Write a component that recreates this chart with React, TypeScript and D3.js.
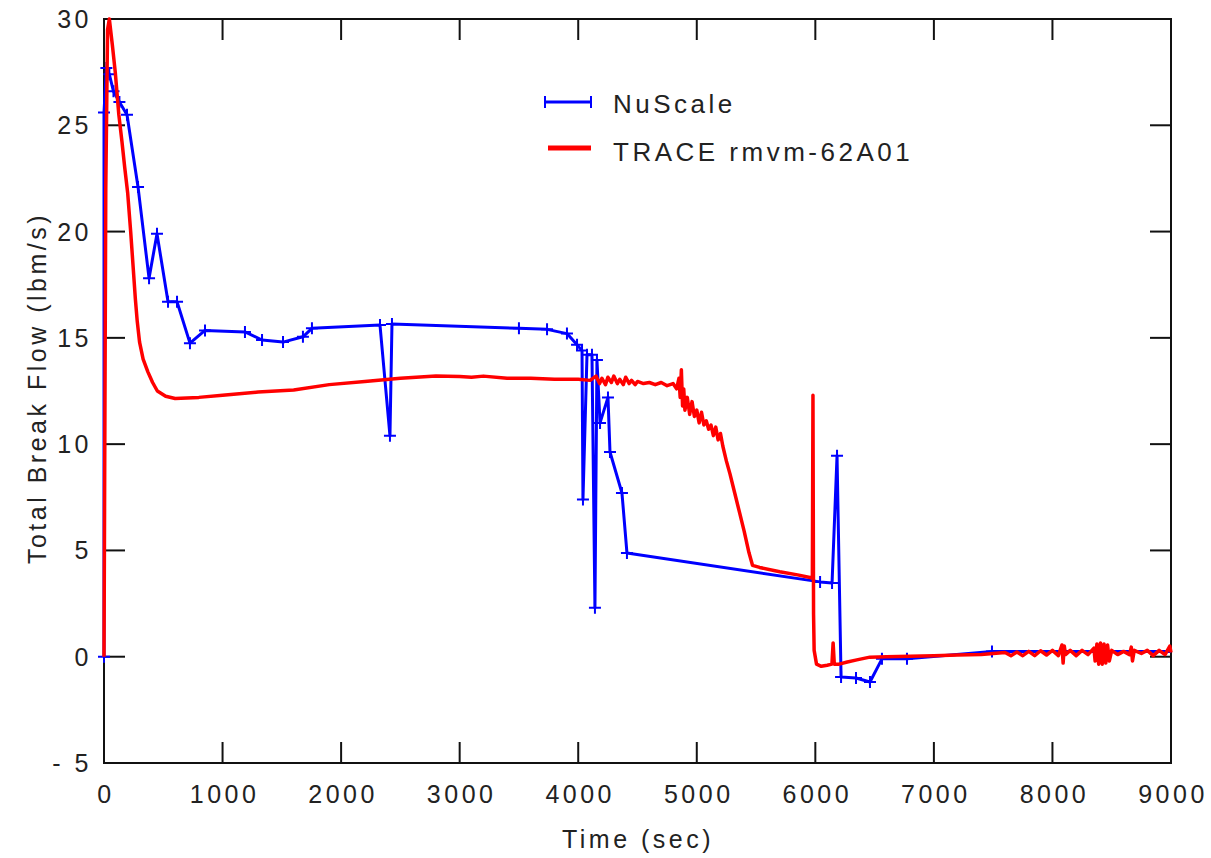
import React, { useRef, useEffect } from "react";
import * as d3 from "d3";

// NuScale results (points carry "+" markers)
const nuscaleTime = [0, 0, 20, 45, 80, 130, 194, 287, 380, 447, 540, 616, 725, 852, 1189, 1333, 1510, 1678, 1754, 2328, 2412, 2429, 3500, 3737, 3905, 3990, 4032, 4040, 4074, 4116, 4141, 4158, 4184, 4251, 4268, 4369, 4411, 6040, 6141, 6183, 6217, 6343, 6461, 6562, 6773, 7490, 8000, 9000];
const nuscaleFlow = [0, 25.6, 27.7, 27.4, 26.6, 26.1, 25.5, 22.1, 17.8, 19.9, 16.7, 16.7, 14.75, 15.35, 15.28, 14.9, 14.8, 15.05, 15.45, 15.6, 10.4, 15.65, 15.45, 15.4, 15.2, 14.67, 14.4, 7.4, 14.2, 14.2, 2.3, 13.96, 11.0, 12.2, 9.63, 7.7, 4.88, 3.52, 3.47, 9.45, -0.95, -1.0, -1.19, -0.1, -0.1, 0.25, 0.25, 0.25];

// TRACE rmvm-62A01 results
const traceTime = [0, 15, 30, 45, 70, 95, 125, 152, 175, 200, 225, 245, 265, 280, 300, 330, 370, 410, 450, 520, 600, 800, 1000, 1300, 1600, 1900, 2200, 2500, 2800, 3000, 3100, 3200, 3400, 3600, 3800, 4000, 4100, 4150, 4180, 4200, 4230, 4250, 4280, 4300, 4330, 4350, 4380, 4400, 4430, 4450, 4480, 4500, 4550, 4600, 4650, 4700, 4750, 4800, 4830, 4850, 4860, 4870, 4880, 4890, 4900, 4920, 4940, 4960, 4980, 5000, 5020, 5040, 5060, 5080, 5100, 5120, 5140, 5160, 5180, 5200, 5220, 5250, 5280, 5320, 5360, 5400, 5440, 5470, 5530, 5700, 5850, 5975, 5980, 5985, 5990, 6010, 6050, 6100, 6140, 6150, 6160, 6200, 6270, 6350, 6460, 6600, 6800, 7000, 7200, 7400, 7600, 7650, 7700, 7750, 7800, 7850, 7900, 7950, 8000, 8050, 8080, 8090, 8100, 8110, 8150, 8200, 8250, 8300, 8350, 8360, 8375, 8390, 8405, 8420, 8435, 8450, 8465, 8480, 8500, 8550, 8600, 8650, 8665, 8675, 8690, 8750, 8800, 8850, 8900, 8950, 8990, 9000];
const traceFlow = [0, 22, 29.5, 30, 28.8, 27.5, 25.5, 24.2, 23, 21.8, 20, 18.4, 16.8, 15.8, 14.8, 14, 13.4, 12.9, 12.5, 12.25, 12.15, 12.2, 12.3, 12.45, 12.55, 12.8, 12.95, 13.1, 13.2, 13.18, 13.15, 13.2, 13.1, 13.1, 13.05, 13.05, 13.0, 13.2, 12.85, 13.1, 12.8, 13.15, 12.9, 13.2, 12.85, 13.05, 12.8, 13.15, 12.85, 13.0, 12.8, 12.95, 12.85, 12.9, 12.8, 12.9, 12.75, 12.85, 12.6, 13.1, 12.2, 13.5, 11.8, 12.6, 11.6, 12.2, 11.4, 12.0, 11.3, 11.6, 11.0, 11.5, 10.9, 11.1, 10.7, 10.9, 10.4, 10.8, 10.2, 10.5, 9.9, 9.2, 8.6, 7.7, 6.8, 5.9, 4.9, 4.3, 4.2, 4.0, 3.85, 3.7, 12.3, 2, 0.3, -0.35, -0.45, -0.4, -0.35, 0.65, -0.35, -0.35, -0.25, -0.15, -0.02, 0.0, 0.02, 0.05, 0.08, 0.1, 0.2, 0.05, 0.22, 0.05, 0.25, 0.05, 0.28, 0.08, 0.3, 0.05, 0.55, -0.3, 0.5, 0.1, 0.3, 0.05, 0.3, 0.1, 0.4, -0.2, 0.6, -0.35, 0.65, -0.35, 0.6, -0.3, 0.55, -0.2, 0.3, 0.1, 0.25, 0.1, 0.45, -0.2, 0.3, 0.15, 0.3, 0.05, 0.3, 0.1, 0.5, 0.2];

const xTicks = [0, 1000, 2000, 3000, 4000, 5000, 6000, 7000, 8000, 9000];
const yTicks = [-5, 0, 5, 10, 15, 20, 25, 30];

const seriesNames = ["NuScale", "TRACE rmvm-62A01"];
const seriesColors = ["#0000ff", "#ff0000"];

const App = () => {
    const ref = useRef<SVGSVGElement>(null);

    useEffect(() => {
        const svgWidth = 1211;
        const svgHeight = 858;
        const left = 104, right = 1171, top = 19, bottom = 763;
        const tickLen = 21;
        const font = "'Liberation Sans', Arial, sans-serif";
        const fontSize = 25;
        const spacing = "3.5px";

        const svg = d3.select(ref.current)
            .attr("width", svgWidth)
            .attr("height", svgHeight);
        svg.selectAll("*").remove();

        const xScale = d3.scaleLinear().domain([0, 9000]).range([left, right]);
        const yScale = d3.scaleLinear().domain([-5, 30]).range([bottom, top]);

        const nuscale = nuscaleTime.map((t, i) => [t, nuscaleFlow[i]] as [number, number]);
        const trace = traceTime.map((t, i) => [t, traceFlow[i]] as [number, number]);

        const line = d3.line<[number, number]>()
            .x(d => xScale(d[0]))
            .y(d => yScale(d[1]));

        // Frame
        svg.append("rect")
            .attr("x", left).attr("y", top)
            .attr("width", right - left).attr("height", bottom - top)
            .attr("fill", "none").attr("stroke", "#111").attr("stroke-width", 2);

        // Inward ticks on all four sides
        const axes = svg.append("g").attr("stroke", "#111").attr("stroke-width", 2);
        xTicks.slice(1, -1).forEach(t => {
            axes.append("line").attr("x1", xScale(t)).attr("x2", xScale(t)).attr("y1", bottom).attr("y2", bottom - tickLen);
            axes.append("line").attr("x1", xScale(t)).attr("x2", xScale(t)).attr("y1", top).attr("y2", top + tickLen);
        });
        yTicks.slice(1, -1).forEach(v => {
            axes.append("line").attr("x1", left).attr("x2", left + tickLen).attr("y1", yScale(v)).attr("y2", yScale(v));
            axes.append("line").attr("x1", right).attr("x2", right - tickLen).attr("y1", yScale(v)).attr("y2", yScale(v));
        });

        // Tick labels
        svg.append("g")
            .selectAll("text")
            .data(xTicks)
            .enter()
            .append("text")
            .attr("x", d => xScale(d) + 2)
            .attr("y", 803)
            .attr("text-anchor", "middle")
            .style("font-family", font)
            .style("font-size", fontSize + "px")
            .style("letter-spacing", spacing)
            .attr("fill", "#222")
            .text(d => String(d));

        svg.append("g")
            .selectAll("text")
            .data(yTicks)
            .enter()
            .append("text")
            .attr("x", 92)
            .attr("y", d => yScale(d) + 9)
            .attr("text-anchor", "end")
            .style("font-family", font)
            .style("font-size", fontSize + "px")
            .style("letter-spacing", spacing)
            .attr("fill", "#222")
            .text(d => d < 0 ? "- " + Math.abs(d) : String(d));

        // Axis titles
        svg.append("text")
            .attr("x", 638).attr("y", 848)
            .attr("text-anchor", "middle")
            .style("font-family", font)
            .style("font-size", fontSize + "px")
            .style("letter-spacing", spacing)
            .attr("fill", "#222")
            .text("Time (sec)");

        svg.append("text")
            .attr("transform", "translate(46, 388) rotate(-90)")
            .attr("text-anchor", "middle")
            .style("font-family", font)
            .style("font-size", fontSize + "px")
            .style("letter-spacing", spacing)
            .attr("fill", "#222")
            .text("Total Break Flow (lbm/s)");

        // Series
        const plot = svg.append("g");
        plot.append("path")
            .datum(nuscale)
            .attr("d", line)
            .attr("fill", "none")
            .attr("stroke", seriesColors[0])
            .attr("stroke-width", 3)
            .attr("stroke-linejoin", "round");

        // "+" markers on NuScale points
        const m = 6;
        plot.selectAll(".mark")
            .data(nuscale.slice(0, -2))
            .enter()
            .append("path")
            .attr("class", "mark")
            .attr("d", d => {
                const x = xScale(d[0]), y = yScale(d[1]);
                return `M${x - m},${y}H${x + m}M${x},${y - m}V${y + m}`;
            })
            .attr("stroke", seriesColors[0])
            .attr("stroke-width", 2);

        plot.append("path")
            .datum(trace)
            .attr("d", line)
            .attr("fill", "none")
            .attr("stroke", seriesColors[1])
            .attr("stroke-width", 3.5)
            .attr("stroke-linejoin", "round");

        // Legend
        const legend = svg.append("g");
        legend.append("line")
            .attr("x1", 544).attr("x2", 592).attr("y1", 102).attr("y2", 102)
            .attr("stroke", seriesColors[0]).attr("stroke-width", 3);
        [545, 591].forEach(x => {
            legend.append("line")
                .attr("x1", x).attr("x2", x).attr("y1", 96).attr("y2", 108)
                .attr("stroke", seriesColors[0]).attr("stroke-width", 2);
        });
        legend.append("line")
            .attr("x1", 548).attr("x2", 591).attr("y1", 148).attr("y2", 148)
            .attr("stroke", seriesColors[1]).attr("stroke-width", 5);

        seriesNames.forEach((name, i) => {
            legend.append("text")
                .attr("x", 613)
                .attr("y", 113 + i * 48)
                .style("font-family", font)
                .style("font-size", "26px")
                .style("letter-spacing", spacing)
                .attr("fill", "#222")
                .text(name);
        });
    }, []);

    return (
        <div style={{ position: "absolute", left: 0, top: 0 }}>
            <svg ref={ref} style={{ display: "block", background: "#fff" }}></svg>
        </div>
    );
};

export default App;
